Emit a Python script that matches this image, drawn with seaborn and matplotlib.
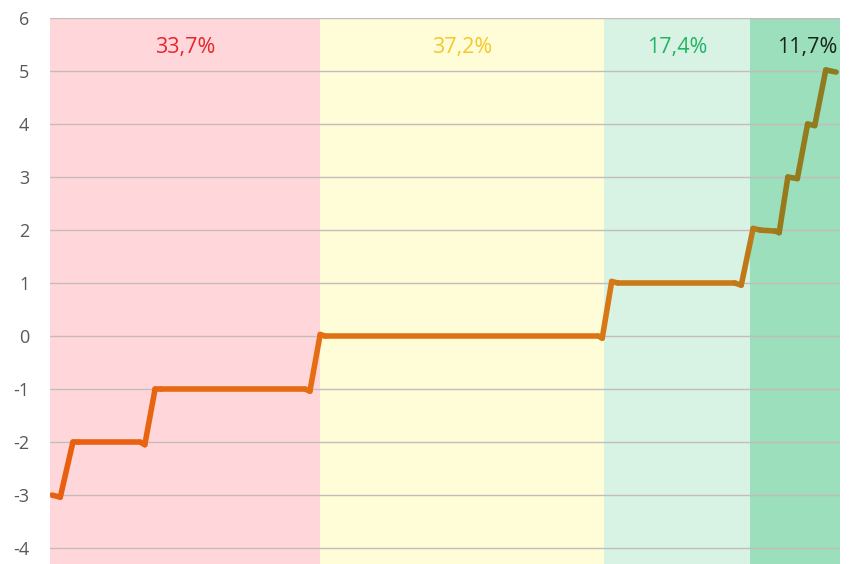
import numpy as np
import pandas as pd
import matplotlib
matplotlib.use("Agg")
import matplotlib.pyplot as plt
import seaborn as sns
from matplotlib.colors import LinearSegmentedColormap

# shaded zones: labels and the x edges
zone_labels = ["33,7%", "37,2%", "17,4%", "11,7%"]
zone_edges = [0, 34.2, 70.1, 88.6, 100]
zone_fill = ["#FFD7DA", "#FFFDD8", "#D8F2E3", "#9BDFBD"]
zone_text = ["#E8242D", "#F5C72C", "#22B565", "#17261C"]

# stepped line
line_x = [0.25, 1.3, 2.9, 3.6, 11.4, 12.0, 13.3, 14.0, 32.3, 32.9, 34.2, 34.8,
          69.4, 69.9, 71.1, 71.9, 86.7, 87.5, 89.0, 89.9, 91.8, 92.3, 93.4,
          94.6, 95.9, 96.8, 98.2, 99.5]
line_y = [-3.0, -3.04, -2.0, -2.0, -2.0, -2.05, -1.0, -1.0, -1.0, -1.04, 0.03, 0.0,
          0.0, -0.04, 1.03, 1.0, 1.0, 0.96, 2.03, 2.0, 1.98, 1.95, 3.0,
          2.97, 4.0, 3.97, 5.02, 4.98]

y_ticks = list(range(-4, 7))

line_cmap = LinearSegmentedColormap.from_list(
    "stepline",
    [(0.0, "#E95E10"), (0.35, "#E66E12"), (0.70, "#D87815"),
     (0.88, "#C07A18"), (0.93, "#987A1C"), (1.0, "#8A7C22")])

sns.set_theme(style="white")
plt.rcParams["font.family"] = ["Open Sans", "DejaVu Sans"]

fig = plt.figure(figsize=(8.5, 5.64), dpi=100)
ax = fig.add_axes([50 / 850, 0, 790 / 850, 546 / 564])

# zones
for i in range(len(zone_labels)):
    lo, hi = zone_edges[i], zone_edges[i + 1]
    ax.axvspan(lo, hi, color=zone_fill[i], lw=0, zorder=0)
    ax.text((lo + hi) / 2 + (1.6 if i == 3 else 0), 5.45,
            zone_labels[i], color=zone_text[i], fontsize=15.5,
            ha="center", va="center", zorder=3)

# grid lines
for yv in y_ticks:
    ax.axhline(yv, color="#C6BABC", lw=1.0, zorder=1)

# line, one segment per pair of points so the colour can drift along x
rows = []
for k in range(len(line_x) - 1):
    rows.append((k, line_x[k], line_y[k]))
    rows.append((k, line_x[k + 1], line_y[k + 1]))
df = pd.DataFrame(rows, columns=["seg", "x", "y"])
seg_colors = [line_cmap(((line_x[k] + line_x[k + 1]) / 2) / 100)
              for k in range(len(line_x) - 1)]
sns.lineplot(data=df, x="x", y="y", hue="seg", palette=seg_colors,
             legend=False, ax=ax, lw=4.0, sort=False, estimator=None,
             solid_capstyle="round", solid_joinstyle="round", zorder=4)

ax.set_xlim(0, 100)
ax.set_ylim(-4.3, 6)
ax.set_yticks(y_ticks)
ax.set_yticklabels([str(v) for v in y_ticks])
ax.set_xticks([])
ax.set_xlabel("")
ax.set_ylabel("")
ax.tick_params(axis="y", length=0, pad=15, labelsize=13, labelcolor="#595959")
for s in ax.spines.values():
    s.set_visible(False)

fig.savefig("out.png", dpi=100)
